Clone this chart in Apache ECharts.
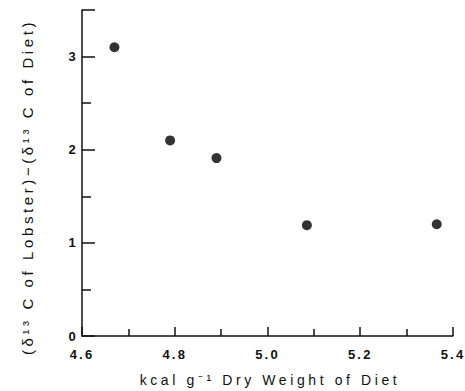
<!DOCTYPE html>
<html><head><meta charset="utf-8">
<script src="https://cdn.jsdelivr.net/npm/echarts@6/dist/echarts.min.js"></script>
<style>
html,body{margin:0;padding:0;background:#fff}
#c{width:465px;height:391px}
#c text{letter-spacing:2.2px}
#c text.nm{letter-spacing:3.6px}
</style>
</head><body><div id="c"></div>
<script>
var xValues = [4.67, 4.79, 4.89, 5.085, 5.365];
var yValues = [3.10, 2.10, 1.91, 1.19, 1.20];
var xTickLabels = ['4.6', '4.8', '5.0', '5.2', '5.4'];
var yTickLabels = ['0', '1', '2', '3'];
var xTitle = 'kcal g\u207B\u00B9 Dry Weight of Diet';
var yTitle = '(\u03B4\u00B9\u00B3 C of Lobster)\u2212(\u03B4\u00B9\u00B3 C of Diet)';

var points = xValues.map(function (x, i) { return [x, yValues[i]]; });
var font = 'Liberation Sans, Arial, Helvetica, sans-serif';
var chart = echarts.init(document.getElementById('c'), null, { renderer: 'svg' });
chart.setOption({
  animation: false,
  backgroundColor: '#fff',
  grid: { left: 82, right: 12, top: 10, bottom: 55 },
  xAxis: {
    type: 'value', min: 4.6, max: 5.4, interval: 0.2,
    axisLine: { lineStyle: { color: '#111', width: 1.5 } },
    axisTick: { inside: true, length: 9, lineStyle: { color: '#111', width: 1.5 } },
    minorTick: { show: true, splitNumber: 2, length: 7, lineStyle: { color: '#111', width: 1.5 } },
    splitLine: { show: false },
    axisLabel: {
      color: '#111', fontSize: 13, fontWeight: 'bold', fontFamily: font, margin: 12,
      formatter: function (v) { var s = v.toFixed(1); return xTickLabels.indexOf(s) >= 0 ? s : ''; }
    }
  },
  yAxis: {
    type: 'value', min: 0, max: 3.5, interval: 1,
    axisLine: { onZero: false, lineStyle: { color: '#111', width: 1.5 } },
    axisTick: { inside: true, length: 13, lineStyle: { color: '#111', width: 1.5 } },
    minorTick: { show: true, splitNumber: 2, length: 9, lineStyle: { color: '#111', width: 1.5 } },
    splitLine: { show: false },
    axisLabel: {
      color: '#111', fontSize: 13, fontWeight: 'bold', fontFamily: font, margin: 4,
      formatter: function (v) { var s = String(Math.round(v)); return (Math.abs(v - Math.round(v)) < 1e-6 && yTickLabels.indexOf(s) >= 0) ? s : ''; }
    }
  },
  graphic: [
    { type: 'text', id: 'xname', x: 270, y: 380,
      style: { text: xTitle, fontSize: 14, fontFamily: font, fill: '#111', align: 'center', verticalAlign: 'middle' } },
    { type: 'text', id: 'yname', x: 27, y: 187, rotation: Math.PI / 2,
      style: { text: yTitle, fontSize: 15, fontFamily: font, fill: '#111', align: 'center', verticalAlign: 'middle' } }
  ],
  series: [{
    type: 'scatter', data: points, symbol: 'circle', symbolSize: 10,
    itemStyle: { color: '#000' }
  }]
});
function tagNames() {
  var ts = document.querySelectorAll('#c text');
  for (var i = 0; i < ts.length; i++) {
    var t = ts[i].textContent;
    if (t === xTitle || t === yTitle) ts[i].setAttribute('class', 'nm');
  }
}
tagNames();
chart.on('finished', tagNames);
</script></body></html>
